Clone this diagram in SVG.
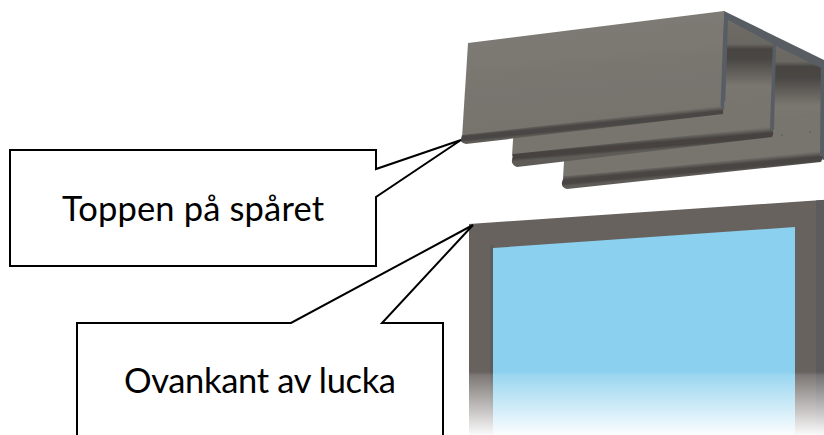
<svg xmlns="http://www.w3.org/2000/svg" width="824" height="435" viewBox="0 0 824 435">
<defs>
<style>
.call{fill:#fff;stroke:#000;stroke-width:2;stroke-linejoin:miter}
.lbl{font-family:"Lato","Carlito","Liberation Sans",sans-serif;font-size:34.5px;fill:#000}
.rib{fill:#585d63}
.back{fill:#77746e}
.speck{fill:#444}
</style>
<filter id="soft" x="-5%" y="-5%" width="110%" height="110%"><feGaussianBlur stdDeviation="0.6"/></filter>
<linearGradient id="fade" x1="0" y1="372" x2="0" y2="435" gradientUnits="userSpaceOnUse"><stop offset="0" stop-color="#fff" stop-opacity="0"/><stop offset="0.05" stop-color="#fff" stop-opacity="0.14"/><stop offset="1" stop-color="#fff" stop-opacity="0.97"/></linearGradient>
<linearGradient id="plate" x1="590" y1="20" x2="600" y2="130" gradientUnits="userSpaceOnUse"><stop offset="0" stop-color="#7e7b75"/><stop offset="0.6" stop-color="#78756f"/><stop offset="1" stop-color="#76736d"/></linearGradient>
<linearGradient id="lip1" x1="589" y1="120" x2="590" y2="130" gradientUnits="userSpaceOnUse"><stop offset="0" stop-color="#716e69"/><stop offset="0.4" stop-color="#4a4744"/><stop offset="0.75" stop-color="#4a4744"/><stop offset="1" stop-color="#5f5c58"/></linearGradient>
<linearGradient id="lip2" x1="640" y1="139" x2="641" y2="151" gradientUnits="userSpaceOnUse"><stop offset="0" stop-color="#716e69"/><stop offset="0.4" stop-color="#464340"/><stop offset="0.75" stop-color="#464340"/><stop offset="1" stop-color="#5f5c58"/></linearGradient>
<linearGradient id="lip3" x1="690" y1="164" x2="691" y2="175" gradientUnits="userSpaceOnUse"><stop offset="0" stop-color="#716e69"/><stop offset="0.4" stop-color="#484542"/><stop offset="0.75" stop-color="#484542"/><stop offset="1" stop-color="#5f5c58"/></linearGradient>
<linearGradient id="in1" x1="0" y1="20" x2="0" y2="112" gradientUnits="userSpaceOnUse"><stop offset="0" stop-color="#6f6c67"/><stop offset="0.26" stop-color="#6a6762"/><stop offset="0.32" stop-color="#474441"/><stop offset="0.42" stop-color="#4a4744"/><stop offset="0.72" stop-color="#7a7771"/><stop offset="1" stop-color="#77746e"/></linearGradient>
<linearGradient id="in2" x1="0" y1="44" x2="0" y2="132" gradientUnits="userSpaceOnUse"><stop offset="0" stop-color="#6f6c67"/><stop offset="0.2" stop-color="#6a6762"/><stop offset="0.26" stop-color="#474441"/><stop offset="0.38" stop-color="#4a4744"/><stop offset="0.7" stop-color="#7a7771"/><stop offset="1" stop-color="#77746e"/></linearGradient>
</defs>
<g id="profile" filter="url(#soft)">
<polygon class="rib" points="724,11 824,60 824,160 720,114"/>
<polygon points="728,20 773,44 772,132 725,112" fill="url(#in1)"/>
<polygon points="776,46 821,68 821,152 772,134" fill="url(#in2)"/>
<polygon class="back" points="565,145 821,112 821,154 563,178"/>
<path d="M564,176 Q600,174 822,151 Q824,157 821,162 L567,189 Q561,188 562,182 Z" fill="url(#lip3)"/>
<polygon class="back" points="514,125 770,96 773,130 512,156"/>
<path d="M513,154 L771,127 Q775,131 772,137 L517,167 Q511,165 512,160 Z" fill="url(#lip2)"/>
<polygon class="rib" points="773,41 776,44 774,130 770,130"/>
<polygon class="rib" points="821,60 824,62 824,156 820,156"/>
<polygon points="468,43 724,11 722,110 462,138" fill="url(#plate)"/>
<polygon class="rib" points="724,11 727,14 724,110 720.5,108"/>
<path d="M462,135 L720,106 Q724,109 723,114 L466,144 Q460,143 461,139 Z" fill="url(#lip1)"/>
</g>
<circle class="speck" cx="782" cy="135" r="0.6"/>
<circle class="speck" cx="810" cy="132" r="0.6"/>
<g id="window">
<g filter="url(#soft)">
<polygon points="469,224 830,199.500 830,445 469,445" fill="#67625e"/>
<polygon points="816,200.500 830,199.500 830,445 816,445" fill="#5b5b5c"/>
<rect x="490" y="245" width="4" height="200" fill="#5c5b5c"/>
<polygon points="493,248 795,227 795,445 493,445" fill="#8bd0ee"/>
</g>
<rect x="462" y="372" width="362" height="63" fill="url(#fade)"/>
</g>
<g id="connectors"/>
<g id="callout-toppen">
<polygon class="call" points="10,150 376,150 376,169 461,140 376,197 376,266 10,266"/>
<text class="lbl" x="62" y="220.500" textLength="262">Toppen på spåret</text>
</g>
<g id="callout-ovankant">
<polyline class="call" points="77,437 77,323 291,323 473,225 382,323 443,323 443,437"/>
<text class="lbl" x="124" y="393" textLength="272">Ovankant av lucka</text>
</g>
</svg>
